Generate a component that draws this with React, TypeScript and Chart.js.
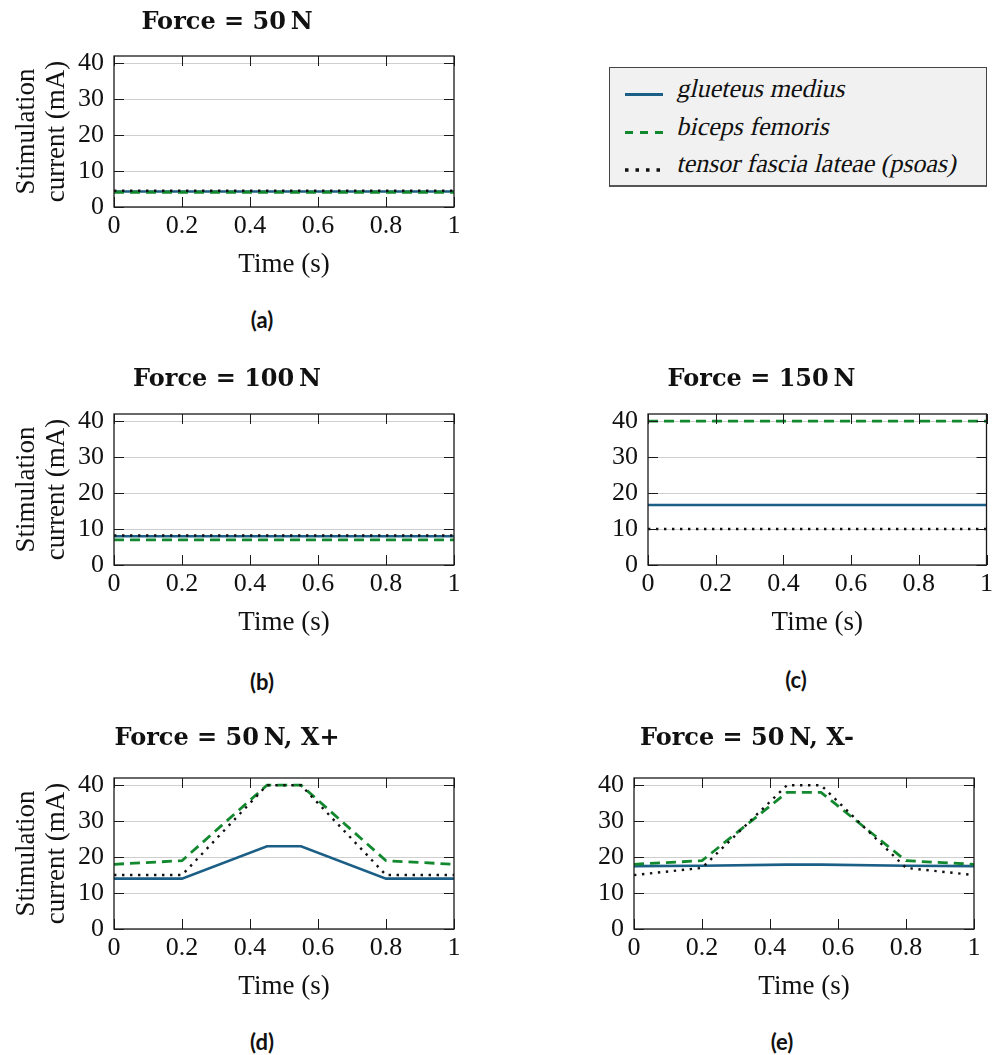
import React, { useEffect, useRef } from 'react';
import { Chart, registerables } from 'chart.js';

Chart.register(...registerables);

// ---------- data ----------
const MUSCLES = ['glueteus medius', 'biceps femoris', 'tensor fascia lateae (psoas)'];

const TIME_FLAT = [0, 1];
const TIME_RAMP = [0, 0.2, 0.45, 0.55, 0.8, 1];

const A_GLUT = [4.3, 4.3];
const A_BICEPS = [4.1, 4.1];
const A_TENSOR = [4.5, 4.5];

const B_GLUT = [8.0, 8.0];
const B_BICEPS = [7.0, 7.0];
const B_TENSOR = [8.2, 8.2];

const C_GLUT = [16.7, 16.7];
const C_BICEPS = [40, 40];
const C_TENSOR = [10, 10];

const D_GLUT = [14, 14, 23, 23, 14, 14];
const D_BICEPS = [18, 19, 40, 40, 19, 18];
const D_TENSOR = [15, 15, 40, 40, 15, 15];

const E_GLUT = [17.5, 17.6, 17.9, 17.9, 17.6, 17.5];
const E_BICEPS = [18, 19, 38, 38, 19, 18];
const E_TENSOR = [15, 17, 40, 40, 17, 15];

const TITLES = [
  'Force = 50\u2009N',
  'Force = 100\u2009N',
  'Force = 150\u2009N',
  'Force = 50\u2009N, X+',
  'Force = 50\u2009N, X-',
];
const CAPTIONS = ['(a)', '(b)', '(c)', '(d)', '(e)'];
const X_TITLE = 'Time (s)';
const Y_TITLE = ['Stimulation', 'current (mA)'];
const X_TICK_LABELS = ['0', '0.2', '0.4', '0.6', '0.8', '1'];

const X_MIN = 0;
const X_MAX = 1;
const X_STEP = 0.2;
const Y_MIN = 0;
const Y_MAX = 42;
const Y_STEP = 10;

// ---------- styles ----------
const COLORS = ['#1b5e86', '#13892f', '#111111'];
const WIDTHS = [2.6, 2.8, 2.4];
const DASHES = [[], [10, 6], [2.4, 5.6]];

const SERIF = "'Liberation Serif', serif";
const TITLE_FONT = { family: "'DejaVu Serif', serif", weight: 'bold' as const, size: 24, lineHeight: 1.2 };
const TICK_FONT = { family: SERIF, size: 26, lineHeight: 1.2 };
const AXIS_FONT = { family: SERIF, size: 27, lineHeight: 1.2 };

const Y_AXIS_W = 114;
const TITLE_H = 56;
const X_AXIS_H = 74;

type PanelDef = {
  title: string;
  caption: string;
  time: number[];
  series: number[][];
  showYTitle: boolean;
  L: number; T: number; R: number; B: number;
  padRight: number;
  titleY: number;
  capX: number; capY: number;
};

const PANELS: PanelDef[] = [
  { title: TITLES[0], caption: CAPTIONS[0], time: TIME_FLAT, series: [A_GLUT, A_BICEPS, A_TENSOR], showYTitle: true,
    L: 114, T: 56, R: 454, B: 207, padRight: 30, titleY: 23, capX: 262, capY: 320 },
  { title: TITLES[1], caption: CAPTIONS[1], time: TIME_FLAT, series: [B_GLUT, B_BICEPS, B_TENSOR], showYTitle: true,
    L: 114, T: 414, R: 454, B: 565, padRight: 30, titleY: 380, capX: 262, capY: 682 },
  { title: TITLES[2], caption: CAPTIONS[2], time: TIME_FLAT, series: [C_GLUT, C_BICEPS, C_TENSOR], showYTitle: false,
    L: 648, T: 414, R: 989, B: 565, padRight: 8, titleY: 380, capX: 796, capY: 680 },
  { title: TITLES[3], caption: CAPTIONS[3], time: TIME_RAMP, series: [D_GLUT, D_BICEPS, D_TENSOR], showYTitle: true,
    L: 114, T: 778, R: 454, B: 929, padRight: 30, titleY: 739, capX: 262, capY: 1042 },
  { title: TITLES[4], caption: CAPTIONS[4], time: TIME_RAMP, series: [E_GLUT, E_BICEPS, E_TENSOR], showYTitle: false,
    L: 634, T: 778, R: 974, B: 929, padRight: 23, titleY: 739, capX: 782, capY: 1042 },
];

const framePlugin = {
  id: 'pgfFrame',
  afterDatasetsDraw(chart: any) {
    const { ctx, chartArea: a, scales } = chart;
    const TL = 10;
    ctx.save();
    ctx.strokeStyle = '#1a1a1a';
    ctx.lineWidth = 1;
    ctx.beginPath();
    scales.x.ticks.forEach((t: any) => {
      const px = Math.round(scales.x.getPixelForValue(t.value)) + 0.5;
      ctx.moveTo(px, a.bottom);
      ctx.lineTo(px, a.bottom - TL);
      ctx.moveTo(px, a.top);
      ctx.lineTo(px, a.top + TL);
    });
    scales.y.ticks.forEach((t: any) => {
      const py = Math.round(scales.y.getPixelForValue(t.value)) + 0.5;
      ctx.moveTo(a.left, py);
      ctx.lineTo(a.left + TL, py);
      ctx.moveTo(a.right, py);
      ctx.lineTo(a.right - TL, py);
    });
    ctx.stroke();
    ctx.lineWidth = 1.3;
    ctx.strokeRect(a.left, a.top, a.right - a.left, a.bottom - a.top);
    ctx.restore();
  },
};

function Panel({ p }: { p: PanelDef }) {
  const ref = useRef<HTMLCanvasElement>(null);
  const cLeft = p.L - Y_AXIS_W;
  const cTop = p.T - TITLE_H;
  const cW = Y_AXIS_W + (p.R - p.L) + p.padRight;
  const cH = TITLE_H + (p.B - p.T) + X_AXIS_H;

  useEffect(() => {
    if (!ref.current) return;
    const titleLH = TITLE_FONT.size * TITLE_FONT.lineHeight;
    const padTop = p.titleY - cTop - titleLH / 2;
    const padBottom = TITLE_H - padTop - titleLH;
    const chart = new Chart(ref.current, {
      type: 'line',
      data: {
        datasets: p.series.map((vals, i) => ({
          label: MUSCLES[i],
          data: p.time.map((t, k) => ({ x: t, y: vals[k] })),
          borderColor: COLORS[i],
          backgroundColor: COLORS[i],
          borderWidth: WIDTHS[i],
          borderDash: DASHES[i],
          borderCapStyle: 'butt',
          pointRadius: 0,
          fill: false,
          tension: 0,
          order: 3 - i,
        })),
      },
      options: {
        animation: false,
        responsive: false,
        maintainAspectRatio: false,
        layout: { padding: { left: 0, top: 0, right: p.padRight, bottom: 0 } },
        plugins: {
          legend: { display: false },
          tooltip: { enabled: false },
          title: {
            display: true,
            text: p.title,
            color: '#111',
            font: TITLE_FONT,
            padding: { top: padTop, bottom: padBottom },
          },
        },
        scales: {
          x: {
            type: 'linear',
            min: X_MIN,
            max: X_MAX,
            ticks: {
              stepSize: X_STEP,
              padding: 4,
              color: '#111',
              font: TICK_FONT,
              autoSkip: false,
              maxRotation: 0,
              callback: (_v: any, i: number) => X_TICK_LABELS[i],
            },
            grid: { display: false, drawTicks: false },
            border: { display: false },
            title: { display: true, text: X_TITLE, color: '#111', font: AXIS_FONT, padding: 0 },
            afterFit: (s: any) => { s.height = X_AXIS_H; },
          },
          y: {
            type: 'linear',
            min: Y_MIN,
            max: Y_MAX,
            ticks: {
              stepSize: Y_STEP,
              padding: 10,
              color: '#111',
              font: TICK_FONT,
              includeBounds: false,
            },
            grid: { color: '#cfcfcf', lineWidth: 1, drawTicks: false },
            border: { display: false },
            title: {
              display: p.showYTitle,
              text: Y_TITLE,
              color: '#111',
              font: { family: SERIF, size: 27, lineHeight: '30px' },
              padding: { top: 12, bottom: 0 },
            },
            afterFit: (s: any) => { s.width = Y_AXIS_W; },
          },
        },
      },
      plugins: [framePlugin],
    } as any);
    return () => chart.destroy();
  }, []);

  return (
    <>
      <canvas
        ref={ref}
        width={cW}
        height={cH}
        style={{ position: 'absolute', left: cLeft, top: cTop, width: cW, height: cH }}
      />
      <div
        style={{
          position: 'absolute',
          left: p.capX,
          top: p.capY,
          transform: 'translate(-50%, -50%)',
          fontFamily: "Lato, sans-serif",
          fontWeight: 'bold',
          fontSize: 22,
          lineHeight: '26px',
          color: '#111',
          whiteSpace: 'nowrap',
        }}
      >
        {p.caption}
      </div>
    </>
  );
}

function LegendBox() {
  const rowsText = [92, 130, 167];
  const rowsLine = [26.5, 64.5, 102];
  return (
    <div
      style={{
        position: 'absolute',
        left: 609,
        top: 67,
        width: 378,
        height: 120,
        boxSizing: 'border-box',
        background: '#f1f1f1',
        border: '1px solid #444',
        borderBottom: '2px solid #555',
      }}
    >
      <svg width={376} height={117} style={{ position: 'absolute', left: 0, top: 0 }}>
        {MUSCLES.map((m, i) => (
          <line
            key={m}
            x1={15}
            x2={53}
            y1={rowsLine[i]}
            y2={rowsLine[i]}
            stroke={COLORS[i]}
            strokeWidth={i === 2 ? 3.5 : 3}
            strokeDasharray={i === 1 ? '8 7' : i === 2 ? '3.5 7' : undefined}
          />
        ))}
      </svg>
      {MUSCLES.map((m, i) => (
        <span
          key={m}
          style={{
            position: 'absolute',
            left: 66,
            top: rowsText[i] - 68 - 18,
            fontFamily: SERIF,
            fontStyle: 'normal',
            fontSize: 26,
            lineHeight: '30px',
            color: '#111',
            whiteSpace: 'nowrap',
            transform: 'skewX(-13deg)',
            transformOrigin: '0 24px',
          }}
        >
          {m}
        </span>
      ))}
    </div>
  );
}

export default function App() {
  return (
    <div style={{ position: 'absolute', left: 0, top: 0, width: 997, height: 1055, overflow: 'hidden', background: '#fff' }}>
      {PANELS.map((p, i) => (
        <Panel key={i} p={p} />
      ))}
      <LegendBox />
    </div>
  );
}
